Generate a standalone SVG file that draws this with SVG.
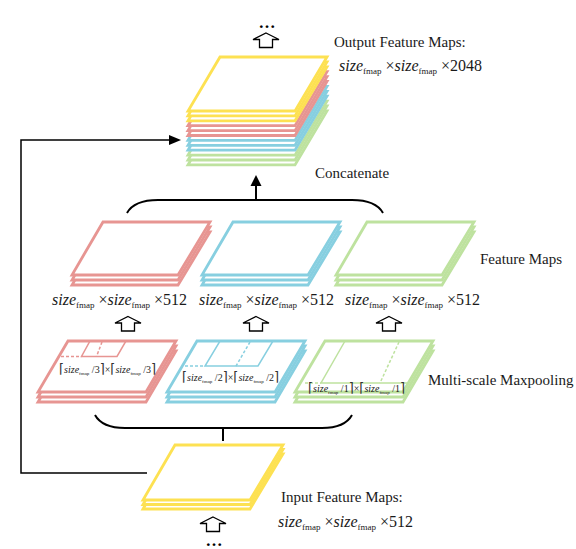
<svg xmlns="http://www.w3.org/2000/svg" xmlns:xlink="http://www.w3.org/1999/xlink" width="576" height="549" viewBox="0 0 576 549">
<style>
.y{fill:#fff;stroke:#FDE152;stroke-width:2.8}
.r{fill:#fff;stroke:#E79592;stroke-width:2.8}
.b{fill:#fff;stroke:#87CFE0;stroke-width:2.8}
.g{fill:#fff;stroke:#BEE29F;stroke-width:2.8}
.ir{fill:none;stroke:#E79592;stroke-width:1.5}
.ib{fill:none;stroke:#87CFE0;stroke-width:1.5}
.ig{fill:none;stroke:#BEE29F;stroke-width:1.5}
.d{stroke-dasharray:3,2}
.lbl{font-family:"Liberation Serif","DejaVu Serif",serif;font-size:15px;fill:#1a1a1a}
.f{font-family:"Liberation Serif","DejaVu Serif",serif;font-size:16px;fill:#1a1a1a}
.pl{font-family:"Liberation Serif","DejaVu Serif",serif;font-size:10px;fill:#1a1a1a}
.i{font-style:italic}
.sb{font-size:9px}
.ps{font-size:5px}
.br{font-size:13px;font-family:"DejaVu Sans",sans-serif;fill:#333}
.ua{fill:#fff;stroke:#000;stroke-width:1.3}
.ln{fill:none;stroke:#000;stroke-width:2}
.sk{fill:none;stroke:#000;stroke-width:1.5}
.dots{font-family:"Liberation Serif","DejaVu Serif",serif;font-size:17px;font-weight:bold;fill:#000}
</style>
<defs>
<polygon id="pOut" points="220,57 327,57 295,111 188,111"/>
<polygon id="pF" points="103,222 210,222 178,275 72,275"/>
<polygon id="pP" points="68,341 176,341 146,392 38,392"/>
<polygon id="pI" points="175,445 283,445 250,500 143,500"/>
<path id="up" d="M0,0 L13,6.5 L6.5,6.5 L6.5,14.5 L-6.5,14.5 L-6.5,6.5 L-13,6.5 Z"/>
</defs>

<g id="output-maps">
<use xlink:href="#pOut" y="53.9" class="g"/>
<use xlink:href="#pOut" y="49" class="g"/>
<use xlink:href="#pOut" y="44.1" class="g"/>
<use xlink:href="#pOut" y="39.2" class="b"/>
<use xlink:href="#pOut" y="34.3" class="b"/>
<use xlink:href="#pOut" y="29.4" class="b"/>
<use xlink:href="#pOut" y="24.5" class="r"/>
<use xlink:href="#pOut" y="19.6" class="r"/>
<use xlink:href="#pOut" y="14.7" class="r"/>
<use xlink:href="#pOut" y="9.8" class="y"/>
<use xlink:href="#pOut" y="4.9" class="y"/>
<use xlink:href="#pOut" y="0" class="y"/>
<text class="lbl" x="334" y="47">Output Feature Maps:</text>
<text class="f" x="339" y="71"><tspan class="i">size</tspan><tspan class="sb" dy="3">fmap</tspan><tspan dy="-3"> ×</tspan><tspan class="i">size</tspan><tspan class="sb" dy="3">fmap</tspan><tspan dy="-3"> ×2048</tspan></text>
</g>

<g id="feature-red">
<use xlink:href="#pF" y="10" class="r"/>
<use xlink:href="#pF" y="5" class="r"/>
<use xlink:href="#pF" y="0" class="r"/>
<text class="f" x="52" y="305"><tspan class="i">size</tspan><tspan class="sb" dy="3">fmap</tspan><tspan dy="-3"> ×</tspan><tspan class="i">size</tspan><tspan class="sb" dy="3">fmap</tspan><tspan dy="-3"> ×512</tspan></text>
</g>
<g id="feature-blue">
<use xlink:href="#pF" x="130" y="10" class="b"/>
<use xlink:href="#pF" x="130" y="5" class="b"/>
<use xlink:href="#pF" x="130" y="0" class="b"/>
<text class="f" x="199" y="305"><tspan class="i">size</tspan><tspan class="sb" dy="3">fmap</tspan><tspan dy="-3"> ×</tspan><tspan class="i">size</tspan><tspan class="sb" dy="3">fmap</tspan><tspan dy="-3"> ×512</tspan></text>
</g>
<g id="feature-green">
<use xlink:href="#pF" x="264" y="10" class="g"/>
<use xlink:href="#pF" x="264" y="5" class="g"/>
<use xlink:href="#pF" x="264" y="0" class="g"/>
<text class="f" x="345" y="305"><tspan class="i">size</tspan><tspan class="sb" dy="3">fmap</tspan><tspan dy="-3"> ×</tspan><tspan class="i">size</tspan><tspan class="sb" dy="3">fmap</tspan><tspan dy="-3"> ×512</tspan></text>
</g>
<text class="lbl" x="480" y="264">Feature Maps</text>

<g id="pool-red">
<use xlink:href="#pP" y="10" class="r"/>
<use xlink:href="#pP" y="5" class="r"/>
<use xlink:href="#pP" y="0" class="r"/>
<polygon class="ir" points="90,341 126,341 117,356.5 81.5,356.5"/>
<line class="ir d" x1="61" y1="356.5" x2="81.5" y2="356.5"/>
<line class="ir d" x1="102" y1="342" x2="96.5" y2="356.5"/>
<text class="pl" x="59" y="373"><tspan class="br">⌈</tspan><tspan class="i">size</tspan><tspan class="ps" dy="1.5">fmap</tspan><tspan dy="-1.5"> /3</tspan><tspan class="br">⌉</tspan>×<tspan class="br">⌈</tspan><tspan class="i">size</tspan><tspan class="ps" dy="1.5">fmap</tspan><tspan dy="-1.5"> /3</tspan><tspan class="br">⌉</tspan></text>
</g>
<g id="pool-blue">
<use xlink:href="#pP" x="129" y="10" class="b"/>
<use xlink:href="#pP" x="129" y="5" class="b"/>
<use xlink:href="#pP" x="129" y="0" class="b"/>
<polygon class="ib" points="220,341 273,341 258,366 205,366"/>
<line class="ib d" x1="185" y1="366" x2="205" y2="366"/>
<line class="ib d" x1="250" y1="342" x2="236" y2="366"/>
<text class="pl" x="182" y="381"><tspan class="br">⌈</tspan><tspan class="i">size</tspan><tspan class="ps" dy="1.5">fmap</tspan><tspan dy="-1.5"> /2</tspan><tspan class="br">⌉</tspan>×<tspan class="br">⌈</tspan><tspan class="i">size</tspan><tspan class="ps" dy="1.5">fmap</tspan><tspan dy="-1.5"> /2</tspan><tspan class="br">⌉</tspan></text>
</g>
<g id="pool-green">
<use xlink:href="#pP" x="257" y="10" class="g"/>
<use xlink:href="#pP" x="257" y="5" class="g"/>
<use xlink:href="#pP" x="257" y="0" class="g"/>
<polyline class="ig" points="345,341 321,383 408,383"/>
<line class="ig d" x1="305" y1="383" x2="321" y2="383"/>
<line class="ig d" x1="399" y1="342" x2="380" y2="383"/>
<text class="pl" x="308" y="392"><tspan class="br">⌈</tspan><tspan class="i">size</tspan><tspan class="ps" dy="1.5">fmap</tspan><tspan dy="-1.5"> /1</tspan><tspan class="br">⌉</tspan>×<tspan class="br">⌈</tspan><tspan class="i">size</tspan><tspan class="ps" dy="1.5">fmap</tspan><tspan dy="-1.5"> /1</tspan><tspan class="br">⌉</tspan></text>
</g>
<text class="lbl" x="428" y="385">Multi-scale Maxpooling</text>

<g id="input-maps">
<use xlink:href="#pI" y="9" class="y"/>
<use xlink:href="#pI" y="4.5" class="y"/>
<use xlink:href="#pI" y="0" class="y"/>
<text class="lbl" x="281" y="502">Input Feature Maps:</text>
<text class="f" x="278" y="527"><tspan class="i">size</tspan><tspan class="sb" dy="3">fmap</tspan><tspan dy="-3"> ×</tspan><tspan class="i">size</tspan><tspan class="sb" dy="3">fmap</tspan><tspan dy="-3"> ×512</tspan></text>
</g>

<g id="connectors">
<use xlink:href="#up" x="266" y="33" class="ua"/>
<text class="dots" x="267" y="28" text-anchor="middle">…</text>
<use xlink:href="#up" x="128" y="316.5" class="ua"/>
<use xlink:href="#up" x="256" y="316.5" class="ua"/>
<use xlink:href="#up" x="389" y="316.5" class="ua"/>
<use xlink:href="#up" x="213" y="517" class="ua"/>
<text class="dots" x="214" y="546" text-anchor="middle">…</text>
<path class="ln" d="M127,213 C132,204 142,200 158,200 L352,200 C368,200 378,204 383,213"/>
<line class="ln" x1="256" y1="200" x2="256" y2="184"/>
<polygon points="256,175 261.5,186 250.5,186" fill="#000"/>
<text class="lbl" x="315" y="178">Concatenate</text>
<path class="ln" d="M95,415 C100,424 110,428 125,428 L322,428 C337,428 347,424 352,415"/>
<line class="ln" x1="223" y1="428" x2="223" y2="441"/>
<polyline class="sk" points="147,473 21,473 21,140 171,140"/>
<polygon points="181,140 169,135 169,145" fill="#000"/>
</g>
</svg>
